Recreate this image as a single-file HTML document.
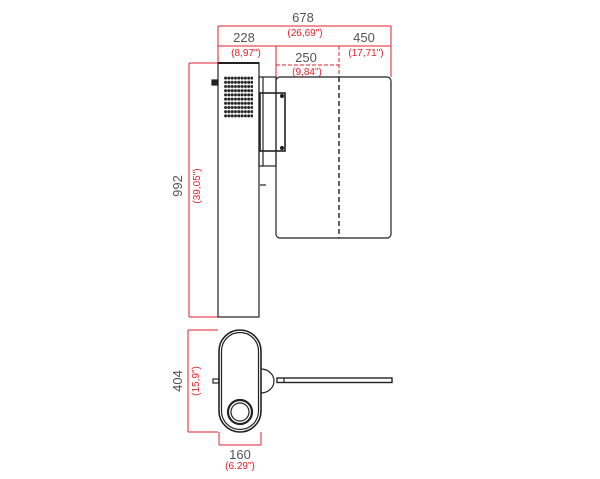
<!DOCTYPE html>
<html><head><style>body{margin:0;background:#fff}svg{display:block}</style></head><body>
<svg width="600" height="479" viewBox="0 0 600 479" xmlns="http://www.w3.org/2000/svg" font-family="Liberation Sans, sans-serif">
<defs><pattern id="g" x="224" y="76" width="3.3" height="4.2" patternUnits="userSpaceOnUse"><circle cx="1.6" cy="2.1" r="1.5" fill="#222"/></pattern></defs>
<g stroke="#e0202a" stroke-width="1" fill="none">
<line x1="218" y1="26" x2="391" y2="26"/><line x1="218" y1="46" x2="391" y2="46"/>
<line x1="218" y1="26" x2="218" y2="63"/><line x1="391" y1="26" x2="391" y2="77"/><line x1="276" y1="46" x2="276" y2="77"/>
<line x1="276" y1="65" x2="339" y2="65" stroke-dasharray="4,2"/><line x1="339" y1="46" x2="339" y2="77" stroke-dasharray="4,2"/>
<line x1="189" y1="63" x2="189" y2="317"/><line x1="189" y1="63" x2="218" y2="63"/><line x1="189" y1="317" x2="218" y2="317"/>
<line x1="188" y1="330" x2="188" y2="432"/><line x1="188" y1="330" x2="218" y2="330"/><line x1="188" y1="432" x2="218" y2="432"/>
<line x1="219" y1="445" x2="261" y2="445"/><line x1="219" y1="432" x2="219" y2="445"/><line x1="261" y1="432" x2="261" y2="445"/>
</g>
<g fill="#555" font-size="13" text-anchor="middle">
<text x="303" y="22">678</text><text x="244" y="42">228</text><text x="364" y="42">450</text><text x="306" y="62">250</text>
<text x="240" y="459">160</text>
<text transform="translate(182,186) rotate(-90)">992</text><text transform="translate(182,381) rotate(-90)">404</text>
</g>
<g fill="#e0202a" font-size="10" text-anchor="middle">
<text x="305" y="36">(26,69")</text><text x="246" y="56">(8,97")</text><text x="366" y="56">(17,71")</text><text x="307" y="75">(9,84")</text>
<text x="240" y="469">(6.29")</text>
<text transform="translate(200,186) rotate(-90)">(39,05")</text><text transform="translate(199,381) rotate(-90)">(15,9")</text>
</g>
<g stroke="#222" fill="none" stroke-width="1.2">
<rect x="218" y="63" width="41" height="254"/><line x1="218" y1="63" x2="259" y2="63" stroke-width="2"/>
<rect x="224" y="76" width="29" height="42" fill="url(#g)" stroke="none"/>
<rect x="212" y="80" width="6" height="5" fill="#222"/>
<rect x="259" y="77" width="17" height="89"/><line x1="263" y1="77" x2="263" y2="166"/>
<rect x="260" y="93" width="25" height="58" stroke-width="1.6"/>
<circle cx="282" cy="96" r="1.5" fill="#222"/><circle cx="282" cy="148" r="1.5" fill="#222"/>
<line x1="260" y1="185" x2="266" y2="185"/>
<rect x="276" y="77" width="115" height="161" rx="4"/>
<line x1="339" y1="77" x2="339" y2="238" stroke-dasharray="5,3" stroke-width="1.4"/>
<rect x="219" y="330" width="42" height="102" rx="21" stroke-width="1.6"/>
<rect x="221.5" y="332.5" width="37" height="97" rx="18.5"/>
<path d="M261 369 A13 12 0 0 1 261 393"/>
<circle cx="240" cy="412" r="12" stroke-width="2.2"/><circle cx="240" cy="412" r="9"/>
<rect x="277" y="378" width="115" height="4.5" stroke-width="1.4"/><line x1="284" y1="378" x2="284" y2="383"/>
<rect x="213" y="379" width="6" height="4"/>
</g>
</svg>
</body></html>
